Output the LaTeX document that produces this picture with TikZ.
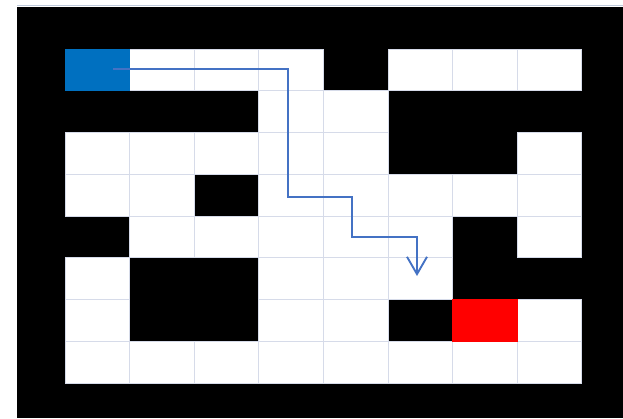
\documentclass[tikz,border=0pt]{standalone}
\usepackage{tikz}
\usetikzlibrary{arrows.meta, positioning}
\definecolor{mazeblue}{HTML}{0070C0}
\definecolor{mazered}{HTML}{FF0000}
\definecolor{routeblue}{HTML}{4472C4}
\definecolor{gridgray}{HTML}{D6DBE9}
\definecolor{sheetline}{HTML}{BFCADB}
\tikzset{
	mazecell/.style={
			rectangle,
			draw=gridgray,
			line width=0.6pt,
			fill=white,
			minimum width=1.938cm,
			minimum height=1.2525cm,
			inner sep=0pt
		},
	startcell/.style={
			mazecell,
			draw=mazeblue,
			fill=mazeblue
		},
	goalcell/.style={
			mazecell,
			draw=mazered,
			fill=mazered
		},
	route/.style={
			draw=routeblue,
			line width=1.3pt,
			-{Straight Barb[length=5.2mm, width=6mm, line width=1.6pt]}
		}
}

\begin{document}
\begin{tikzpicture}[x=0.03cm, y=-0.03cm]
\useasboundingbox (0,0) rectangle (623,418);

% sheet edge and black wall
\draw[sheetline, line width=1.7pt] (17,5.5) -- (623,5.5);
\fill[black] (17,7) rectangle (623,418);

% open cells
\foreach \c/\r in {1/0,2/0,3/0,5/0,6/0,7/0,
                   3/1,4/1,
                   0/2,1/2,2/2,3/2,4/2,7/2,
                   0/3,1/3,3/3,4/3,5/3,6/3,7/3,
                   1/4,2/4,3/4,4/4,5/4,7/4,
                   0/5,3/5,4/5,5/5,
                   0/6,3/6,4/6,7/6,
                   0/7,1/7,2/7,3/7,4/7,5/7,6/7,7/7}
  \node[mazecell] (cell-\c-\r) at ({65+64.6*(\c+0.5)}, {49+41.75*(\r+0.5)}) {};

\node[startcell] (start) at ({65+64.6*0.5}, {49+41.75*0.5}) {};
\node[goalcell] (goal) at ({65+64.6*6.5}, {49+41.75*6.5}) {};

% route
\coordinate (r0) at (113,69);
\coordinate (r1) at (288,197);
\coordinate (r2) at (352,237);
\coordinate (r3) at (417,276);
\draw[route] (r0) -| (r1) -| (r2) -| (r3);
\end{tikzpicture}
\end{document}
